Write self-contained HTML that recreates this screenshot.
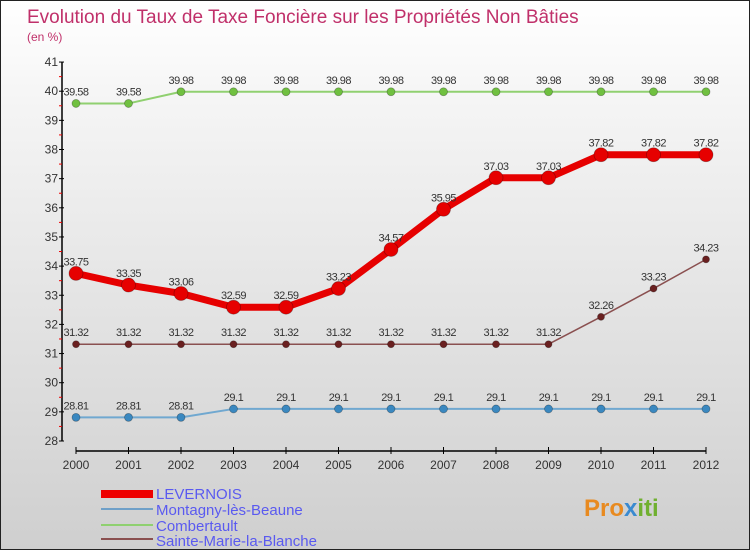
<!DOCTYPE html>
<html><head><meta charset="utf-8"><style>
body{margin:0;}
#c{width:750px;height:550px;position:relative;overflow:hidden;background:linear-gradient(#ffffff,#f4f4f4 20%,#d6d6d6 85%,#cfcfcf);box-sizing:border-box;border:1px solid #222;font-family:"Liberation Sans",sans-serif;}
text{font-family:"Liberation Sans",sans-serif;}
</style></head><body>
<div id="c">
<svg id="s" width="750" height="550" style="position:absolute;left:0;top:0">
<text x="26" y="22" font-size="19" fill="#c0306a">Evolution du Taux de Taxe Foncière sur les Propriétés Non Bâties</text>
<text x="26" y="40" font-size="12" fill="#c0306a">(en %)</text>
<g id="axes"></g><g id="series"></g>
<g>
<rect x="100" y="489" width="52" height="8" fill="#e00"/>
<text x="155" y="498" font-size="15" fill="#5a5af0">LEVERNOIS</text>
<line x1="100" y1="508" x2="152" y2="508" stroke="#6fa0c8" stroke-width="2"/>
<text x="155" y="514" font-size="15" fill="#5a5af0">Montagny-lès-Beaune</text>
<line x1="100" y1="524" x2="152" y2="524" stroke="#8fd070" stroke-width="2"/>
<text x="155" y="530" font-size="15" fill="#5a5af0">Combertault</text>
<line x1="100" y1="538" x2="152" y2="538" stroke="#8a5050" stroke-width="2"/>
<text x="155" y="545" font-size="15" fill="#5a5af0">Sainte-Marie-la-Blanche</text>
</g>
<text x="583" y="515" font-size="24" font-weight="bold" fill="#e88a20">Pro<tspan fill="#3a8ad0">x</tspan><tspan fill="#70b030">iti</tspan></text>
</svg>
</div>
<script>
const years=[2000,2001,2002,2003,2004,2005,2006,2007,2008,2009,2010,2011,2012];
const yTicks=[28,29,30,31,32,33,34,35,36,37,38,39,40,41];
const levernois=[33.75,33.35,33.06,32.59,32.59,33.23,34.57,35.95,37.03,37.03,37.82,37.82,37.82];
const montagny=[28.81,28.81,28.81,29.1,29.1,29.1,29.1,29.1,29.1,29.1,29.1,29.1,29.1];
const combertault=[39.58,39.58,39.98,39.98,39.98,39.98,39.98,39.98,39.98,39.98,39.98,39.98,39.98];
const sainteMarie=[31.32,31.32,31.32,31.32,31.32,31.32,31.32,31.32,31.32,31.32,32.26,33.23,34.23];
const NS="http://www.w3.org/2000/svg";
const x=i=>75+i*52.5;
const y=v=>440-(v-28)*29.15;
function mk(t,a,p){const e=document.createElementNS(NS,t);for(const k in a)e.setAttribute(k,a[k]);p.appendChild(e);return e;}
const ax=document.getElementById('axes');
let e=mk('line',{x1:61,y1:y(41),x2:61,y2:y(28),stroke:'#000','stroke-width':1.5},ax);


e=mk('line',{x1:x(0),y1:450,x2:x(12),y2:450,stroke:'#000','stroke-width':1.5},ax);


yTicks.forEach(v=>{
 mk('line',{x1:58,y1:y(v),x2:63,y2:y(v),stroke:'#000'},ax);
 if(v<41)mk('line',{x1:58,y1:y(v+0.5),x2:61,y2:y(v+0.5),stroke:'#e00'},ax);
 const t=mk('text',{x:57,y:y(v)+4,'font-size':12,'text-anchor':'end',fill:'#333'},ax);t.textContent=v;
 
 
});
years.forEach((yr,i)=>{
 mk('line',{x1:x(i),y1:446,x2:x(i),y2:453,stroke:'#000'},ax);
 const t=mk('text',{x:x(i),y:468,'font-size':12,'text-anchor':'middle',fill:'#333'},ax);t.textContent=yr;
 
 
});
const sg=document.getElementById('series');
function series(vals,color,w,r,dot,name){
 const g=mk('g',{},sg);
 
 
 mk('polyline',{points:vals.map((v,i)=>x(i)+','+y(v)).join(' '),fill:'none',stroke:color,'stroke-width':w,'stroke-linejoin':'round'},g);
 vals.forEach((v,i)=>{
  const c=mk('circle',{cx:x(i),cy:y(v),r:r,fill:dot,stroke:'rgba(0,0,0,0.3)','stroke-width':0.8},g);
  
  
  const t=mk('text',{x:x(i),y:y(v)-8,'font-size':11,'text-anchor':'middle',fill:'#333','letter-spacing':'-0.5'},g);t.textContent=v;
  
  
 });
}
series(combertault,'#90d070',2,4,'#70c040','combertault-series');
series(montagny,'#70a8d0',2,4,'#3a88c0','montagny-series');
series(sainteMarie,'#8a5050',1.5,3.5,'#6a2020','sainte-marie-series');
series(levernois,'#e60000',7,7,'#e60000','levernois-series');
</script>
</body></html>
